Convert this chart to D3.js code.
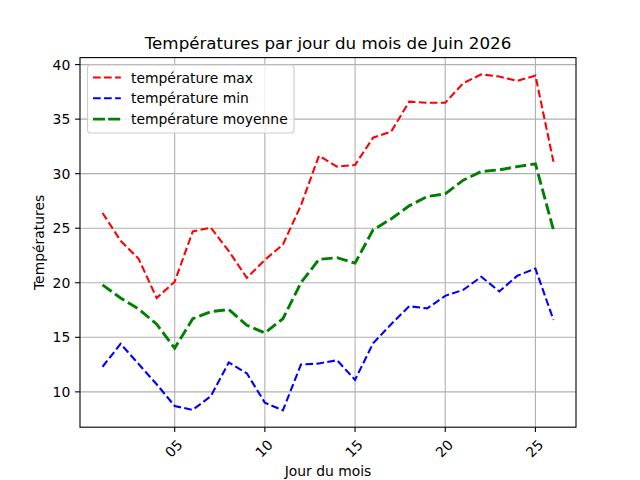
<!DOCTYPE html>
<html>
<head>
<meta charset="UTF-8">
<script src="https://d3js.org/d3.v7.min.js"></script>
<style>
  body { margin: 0; background: white; }
  text { font-family: "DejaVu Sans", sans-serif; fill: black; }
</style>
</head>
<body>
<svg id="chart" width="640" height="480"></svg>
<script>
// data
const days = d3.range(1, 27);
const tempMax = [26.4, 23.85, 22.2, 18.6, 20.1, 24.7, 25.05, 22.9, 20.45, 22.1, 23.5, 27.1, 31.65,
                 30.65, 30.8, 33.3, 33.85, 36.6, 36.5, 36.5, 38.3, 39.1, 38.9, 38.5, 39.0, 31.1];
const tempMin = [12.3, 14.4, 12.55, 10.7, 8.7, 8.35, 9.6, 12.7, 11.7, 9.0, 8.3, 12.5, 12.6,
                 12.9, 11.1, 14.45, 16.2, 17.85, 17.65, 18.8, 19.35, 20.55, 19.2, 20.65, 21.3, 16.6];
const tempMoy = [19.8, 18.6, 17.6, 16.2, 14.0, 16.7, 17.35, 17.55, 16.1, 15.4, 16.7, 20.0, 22.15,
                 22.3, 21.8, 24.85, 25.85, 27.05, 27.9, 28.15, 29.4, 30.2, 30.35, 30.65, 30.9, 24.85];
const xTicks = [5, 10, 15, 20, 25];
const yTicks = [10, 15, 20, 25, 30, 35, 40];
const series = [
  {name: "température max", values: tempMax, color: "red", lw: 2.08, dash: "7.7,3.33"},
  {name: "température min", values: tempMin, color: "blue", lw: 2.08, dash: "7.7,3.33"},
  {name: "température moyenne", values: tempMoy, color: "green", lw: 2.9, dash: "11.2,4.2"}
];

const axL = 80, axR = 576, axT = 57.6, axB = 427.2;
const svg = d3.select("#chart");

const x = d3.scaleLinear().domain([-0.25, 27.25]).range([axL, axR]);
const allV = tempMax.concat(tempMin, tempMoy);
const lo = d3.min(allV), hi = d3.max(allV), m = (hi - lo) * 0.05;
const y = d3.scaleLinear().domain([lo - m, hi + m]).range([axB, axT]);

// grid
svg.append("g").selectAll("line").data(xTicks).join("line")
  .attr("x1", d => x(d)).attr("x2", d => x(d)).attr("y1", axT).attr("y2", axB)
  .attr("stroke", "#b0b0b0").attr("stroke-width", 1.1);
svg.append("g").selectAll("line").data(yTicks).join("line")
  .attr("y1", d => y(d)).attr("y2", d => y(d)).attr("x1", axL).attr("x2", axR)
  .attr("stroke", "#b0b0b0").attr("stroke-width", 1.1);

// lines
const line = d3.line().x((d, i) => x(days[i])).y(d => y(d));
series.forEach(s => {
  svg.append("path").attr("d", line(s.values))
    .attr("fill", "none").attr("stroke", s.color)
    .attr("stroke-width", s.lw).attr("stroke-dasharray", s.dash);
});

// frame
svg.append("rect").attr("x", axL).attr("y", axT)
  .attr("width", axR - axL).attr("height", axB - axT)
  .attr("fill", "none").attr("stroke", "black").attr("stroke-width", 1.1);

// x ticks
const xt = svg.append("g").selectAll("g").data(xTicks).join("g");
xt.append("line").attr("x1", d => x(d)).attr("x2", d => x(d))
  .attr("y1", axB).attr("y2", axB + 4.9).attr("stroke", "black").attr("stroke-width", 1.1);
xt.append("text")
  .attr("transform", d => `translate(${x(d) - 1},448.5) rotate(-45)`)
  .attr("text-anchor", "middle").attr("dominant-baseline", "central")
  .style("font-size", "13.9px")
  .text(d => d3.format("02d")(d));

// y ticks
const yt = svg.append("g").selectAll("g").data(yTicks).join("g");
yt.append("line").attr("x1", axL - 4.9).attr("x2", axL)
  .attr("y1", d => y(d)).attr("y2", d => y(d)).attr("stroke", "black").attr("stroke-width", 1.1);
yt.append("text").attr("x", axL - 9.7).attr("y", d => y(d))
  .attr("text-anchor", "end").attr("dominant-baseline", "central")
  .style("font-size", "13.9px").text(d => d);

// titles
svg.append("text").attr("x", (axL + axR) / 2).attr("y", 49)
  .attr("text-anchor", "middle").style("font-size", "16.7px")
  .text("Températures par jour du mois de Juin 2026");
svg.append("text").attr("x", (axL + axR) / 2).attr("y", 476)
  .attr("text-anchor", "middle").style("font-size", "13.9px").text("Jour du mois");
svg.append("text").attr("transform", `translate(44,${(axT + axB) / 2}) rotate(-90)`)
  .attr("text-anchor", "middle").style("font-size", "13.9px").text("Températures");

// legend
const lg = svg.append("g");
lg.append("rect").attr("x", 87.5).attr("y", 65).attr("width", 206.5).attr("height", 68)
  .attr("rx", 3).attr("fill", "white").attr("fill-opacity", 0.8)
  .attr("stroke", "#cccccc").attr("stroke-width", 1.1);
const items = lg.selectAll("g.item").data(series).join("g")
  .attr("transform", (d, i) => `translate(0,${77.5 + i * 20.8})`);
items.append("line").attr("x1", 93).attr("x2", 120.8).attr("y1", 0).attr("y2", 0)
  .attr("stroke", d => d.color).attr("stroke-width", d => d.lw)
  .attr("stroke-dasharray", d => d.name === "température moyenne" ? "12,3.2" : d.dash);
items.append("text").attr("x", 131).attr("y", 0).attr("dominant-baseline", "central")
  .style("font-size", "13.9px").text(d => d.name);
</script>
</body>
</html>
